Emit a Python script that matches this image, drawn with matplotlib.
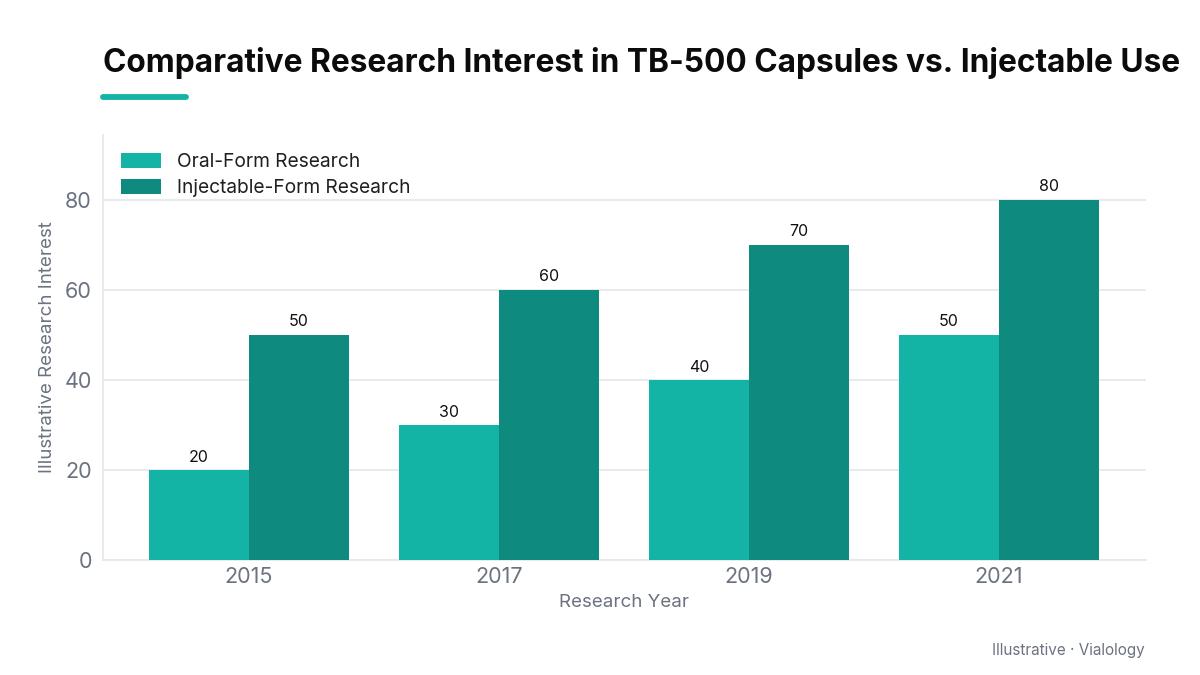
import matplotlib
matplotlib.use("Agg")
import matplotlib.pyplot as plt
import numpy as np
from matplotlib.lines import Line2D

# chart data
years = ["2015", "2017", "2019", "2021"]
oral = [20, 30, 40, 50]
injectable = [50, 60, 70, 80]
series_labels = ["Oral-Form Research", "Injectable-Form Research"]

oral_color = "#13b3a5"
inj_color = "#0e8b7e"
grid_color = "#e6e9ec"
tick_color = "#6b7280"

plt.rcParams['font.family'] = ['Inter', 'DejaVu Sans']

fig = plt.figure(figsize=(12, 6.75), dpi=100)
ax = fig.add_axes([0.0858, 0.1704, 0.8692, 0.6296])

x = np.arange(len(years))
w = 0.4
b1 = ax.bar(x - w / 2, oral, w, color=oral_color, label=series_labels[0], zorder=3)
b2 = ax.bar(x + w / 2, injectable, w, color=inj_color, label=series_labels[1], zorder=3)

for bars, vals in [(b1, oral), (b2, injectable)]:
    for rect, v in zip(bars, vals):
        ax.text(rect.get_x() + rect.get_width() / 2, v + 1.2, str(v),
                ha="center", va="bottom", fontsize=11.5, color="#111111")

ax.set_xlim(-0.584, 3.588)
ax.set_ylim(0, 94.4)
ax.set_yticks([0, 20, 40, 60, 80])
ax.set_xticks(x)
ax.set_xticklabels(years)
ax.tick_params(axis="both", length=0, labelsize=15.5, colors=tick_color)
ax.tick_params(axis="x", pad=5)
ax.tick_params(axis="y", pad=8)
ax.yaxis.grid(True, color=grid_color, linewidth=1.3, zorder=0)
ax.set_axisbelow(True)

for s in ["top", "right"]:
    ax.spines[s].set_visible(False)
for s in ["left", "bottom"]:
    ax.spines[s].set_color(grid_color)
    ax.spines[s].set_linewidth(1.3)

ax.set_xlabel("Research Year", fontsize=13.5, color=tick_color, labelpad=5)
ax.set_ylabel("Illustrative Research Interest", fontsize=13.5, color=tick_color, labelpad=6)

leg = ax.legend(loc="upper left", frameon=False, fontsize=13.8, handlelength=2.1,
                handleheight=0.8, handletextpad=0.8, labelspacing=0.4,
                bbox_to_anchor=(0.0, 1.0), borderaxespad=0.55)
for t in leg.get_texts():
    t.set_color("#1f1f1f")

fig.text(0.0858, 0.907, "Comparative Research Interest in TB-500 Capsules vs. Injectable Use",
         fontsize=22.8, fontweight="bold", color="#0b0b0b", ha="left", va="center")

# accent underline under the title
fig.lines.append(Line2D([0.0858, 0.155], [0.856, 0.856], transform=fig.transFigure,
                        color=oral_color, linewidth=4.2, solid_capstyle="round"))

fig.text(0.954, 0.037, "Illustrative · Vialology", fontsize=11, color=tick_color,
         ha="right", va="center")

fig.savefig("out.png", dpi=100, facecolor="white")
